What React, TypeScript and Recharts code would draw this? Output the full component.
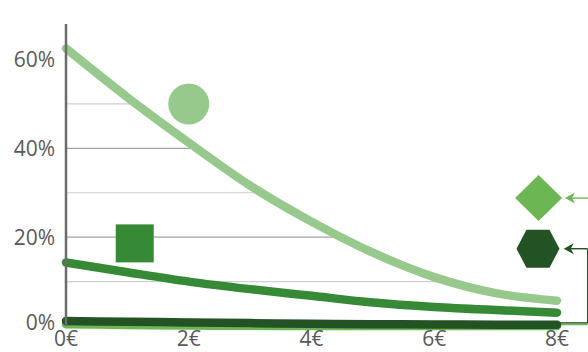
import React from 'react';
import {
  ComposedChart,
  Line,
  Area,
  Scatter,
  XAxis,
  YAxis,
  CartesianGrid,
  ReferenceLine,
  ReferenceDot,
} from 'recharts';

// price steps (€) and the share (%) of each group at that price
const prices = [0, 1, 2, 3, 4, 5, 6, 7, 8];
const lightShare = [62.5, 51.5, 41.3, 31.6, 23.5, 16.5, 11, 7.4, 5.7];
const mediumShare = [14.3, 12.1, 10.0, 8.3, 6.8, 5.3, 4.3, 3.6, 3.0];
const darkShare = [1.1, 0.95, 0.8, 0.65, 0.5, 0.4, 0.35, 0.3, 0.3];
const brightShare = [0.4, 0.25, 0.1, 0.05, 0, 0, 0, 0, 0];

const xTicks = [0, 2, 4, 6, 8];
const yTicks = [0, 20, 40, 60];
const majorGrid = [20, 40];
const minorGrid = [10, 30, 50];
const yMax = 68;

// group markers
const lightMarker = [{ price: 2, share: 50 }];
const mediumMarker = [{ price: 1.12, share: 18.6 }];
const brightMarker = [{ price: 7.7, share: 28.8 }];
const darkMarker = [{ price: 7.69, share: 17.4 }];

// callout arrows from the line ends to the right-hand markers
const arrowTipX = 8.11;
const darkBendX = 8.5;
const brightBendX = 8.56;
const darkLinkShare = 0.7;
const brightLinkShare = 0.33;

const LIGHT = '#97c98d';
const MEDIUM = '#368a35';
const DARK = '#235325';
const BRIGHT = '#6cb753';
const TEXT = '#5a5a5a';
const FONT = '"Open Sans", sans-serif';

const rows = prices.map((price, i) => ({
  price,
  light: lightShare[i],
  medium: mediumShare[i],
  dark: darkShare[i],
  bright: brightShare[i],
  // blank space above the light curve, hides the grid there
  cover: [lightShare[i], yMax],
}));

const CircleShape = (p: any) => <circle cx={p.cx} cy={p.cy} r={20.5} fill={LIGHT} />;

const SquareShape = (p: any) => (
  <rect x={p.cx - 19} y={p.cy - 19} width={38} height={38} fill={MEDIUM} />
);

const DiamondShape = (p: any) => {
  const { cx, cy } = p;
  return (
    <polygon
      points={`${cx},${cy - 23} ${cx + 23.5},${cy} ${cx},${cy + 23} ${cx - 23.5},${cy}`}
      fill={BRIGHT}
    />
  );
};

const HexagonShape = (p: any) => {
  const { cx, cy } = p;
  const w = 21.5;
  const q = 11.5;
  const h = 19;
  return (
    <polygon
      points={`${cx - w},${cy} ${cx - q},${cy - h} ${cx + q},${cy - h} ${cx + w},${cy} ${cx + q},${cy + h} ${cx - q},${cy + h}`}
      fill={DARK}
    />
  );
};

const arrowHead = (color: string) => (p: any) => {
  const { cx, cy } = p;
  return (
    <path
      d={`M${cx},${cy} L${cx + 10},${cy - 5.5} L${cx + 7},${cy} L${cx + 10},${cy + 5.5} Z`}
      fill={color}
    />
  );
};

// y labels; the bottom one sits a little higher than its gridline
const YTick = (p: any) => {
  const { x, y, payload } = p;
  const lift = payload.value === 0 ? -3 : 0;
  return (
    <text x={x} y={y + lift} dy="0.355em" textAnchor="end" fill={TEXT} fontSize={21} fontFamily={FONT}>
      {`${payload.value}%`}
    </text>
  );
};

const tickStyle = { fill: TEXT, fontSize: 21, fontFamily: FONT };

export default function App() {
  const darkY = darkMarker[0].share;
  const brightY = brightMarker[0].share;

  return (
    <div style={{ position: 'absolute', left: 0, top: 0, width: 588, height: 352, background: '#fff' }}>
      <ComposedChart
        width={588}
        height={352}
        data={rows}
        margin={{ top: 24, right: 31, bottom: 0, left: 0 }}
      >
        <CartesianGrid horizontalValues={minorGrid} vertical={false} stroke="#cfcfcf" strokeWidth={1.2} />
        <CartesianGrid horizontalValues={majorGrid} vertical={false} stroke="#a3a3a3" strokeWidth={1.2} />
        <Area
          type="monotone"
          dataKey="cover"
          fill="#ffffff"
          fillOpacity={1}
          stroke="none"
          activeDot={false}
          isAnimationActive={false}
        />
        <XAxis
          dataKey="price"
          type="number"
          domain={[0, 8]}
          ticks={xTicks}
          tickFormatter={(v) => `${v}€`}
          axisLine={false}
          tickLine={false}
          tickSize={0}
          tickMargin={5}
          height={26}
          tick={tickStyle}
        />
        <YAxis
          type="number"
          domain={[0, yMax]}
          ticks={yTicks}
          axisLine={{ stroke: '#6b6b6b', strokeWidth: 2.5 }}
          tickLine={false}
          tickSize={0}
          tickMargin={11}
          width={66}
          tick={<YTick />}
        />

        {/* connector lines out to the right-hand markers */}
        <ReferenceLine segment={[{ x: 8, y: brightLinkShare }, { x: brightBendX, y: brightLinkShare }]} stroke={BRIGHT} strokeWidth={1.4} ifOverflow="visible" />
        <ReferenceLine segment={[{ x: brightBendX, y: brightLinkShare }, { x: brightBendX, y: brightY }]} stroke={BRIGHT} strokeWidth={1.4} ifOverflow="visible" />
        <ReferenceLine segment={[{ x: brightBendX, y: brightY }, { x: arrowTipX + 0.12, y: brightY }]} stroke={BRIGHT} strokeWidth={1.4} ifOverflow="visible" />
        <ReferenceDot x={arrowTipX + 0.02} y={brightY} r={0} ifOverflow="visible" shape={arrowHead(BRIGHT)} />

        <ReferenceLine segment={[{ x: 8, y: darkLinkShare }, { x: darkBendX, y: darkLinkShare }]} stroke={DARK} strokeWidth={1.4} ifOverflow="visible" />
        <ReferenceLine segment={[{ x: darkBendX, y: darkLinkShare }, { x: darkBendX, y: darkY }]} stroke={DARK} strokeWidth={1.4} ifOverflow="visible" />
        <ReferenceLine segment={[{ x: darkBendX, y: darkY }, { x: arrowTipX + 0.1, y: darkY }]} stroke={DARK} strokeWidth={1.4} ifOverflow="visible" />
        <ReferenceDot x={arrowTipX} y={darkY} r={0} ifOverflow="visible" shape={arrowHead(DARK)} />

        <Line type="monotone" dataKey="bright" stroke={BRIGHT} strokeWidth={8.5} strokeLinecap="round" dot={false} activeDot={false} isAnimationActive={false} />
        <Line type="monotone" dataKey="dark" stroke={DARK} strokeWidth={8.5} strokeLinecap="round" dot={false} activeDot={false} isAnimationActive={false} />
        <Line type="monotone" dataKey="medium" stroke={MEDIUM} strokeWidth={8.5} strokeLinecap="round" dot={false} activeDot={false} isAnimationActive={false} />
        <Line type="monotone" dataKey="light" stroke={LIGHT} strokeWidth={8.5} strokeLinecap="round" dot={false} activeDot={false} isAnimationActive={false} />

        <Scatter data={lightMarker} dataKey="share" shape={CircleShape} isAnimationActive={false} />
        <Scatter data={mediumMarker} dataKey="share" shape={SquareShape} isAnimationActive={false} />
        <Scatter data={brightMarker} dataKey="share" shape={DiamondShape} isAnimationActive={false} />
        <Scatter data={darkMarker} dataKey="share" shape={HexagonShape} isAnimationActive={false} />
      </ComposedChart>
    </div>
  );
}
